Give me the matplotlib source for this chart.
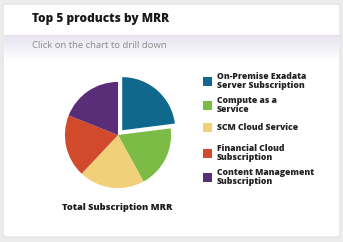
import numpy as np
import matplotlib
matplotlib.use('Agg')
import matplotlib.pyplot as plt
from matplotlib.patches import FancyBboxPatch, Rectangle

plt.rcParams['font.family'] = ['Open Sans', 'DejaVu Sans']

W, H = 343, 242

title = 'Top 5 products by MRR'
subtitle = 'Click on the chart to drill down'
pie_label = 'Total Subscription MRR'
products = ['On-Premise Exadata\nServer Subscription', 'Compute as a\nService', 'SCM Cloud Service',
            'Financial Cloud\nSubscription', 'Content Management\nSubscription']
mrr = [23, 19, 20, 19, 19]
colors = ['#10698c', '#7cbb45', '#f1d07a', '#d14a2c', '#5a2d78']
explode = [0.12, 0, 0, 0, 0]


def px(x, y):
    # pixel from top-left -> figure fraction
    return x / W, 1 - y / H


fig = plt.figure(figsize=(W / 100, H / 100), dpi=100)
fig.patch.set_facecolor('#ececec')

# background axes holding the card
bg = fig.add_axes([0, 0, 1, 1], zorder=-10)
bg.axis('off')
bg.add_patch(FancyBboxPatch((3, 4), 337, 233, boxstyle='round,pad=0,rounding_size=3',
                            facecolor='white', edgecolor='#e0e0e0', lw=0.8))

# subtitle band with faint lavender gradient
grad = np.linspace(0, 1, 50).reshape(-1, 1)
top = np.array([0.91, 0.89, 0.94])
bot = np.array([0.99, 0.99, 1.0])
img = top[None, None, :] * (1 - grad[:, :, None]) + bot[None, None, :] * grad[:, :, None]
bg.imshow(img, aspect='auto', extent=[4, 339, 59, 35], zorder=1)
bg.plot([4, 339], [35, 35], color='#e4e0e8', lw=0.6, zorder=2)
bg.set_xlim(0, W)
bg.set_ylim(H, 0)

fig.text(*px(32, 19), title, fontsize=8.6, fontweight='heavy', color='#1a1a1a', va='center', ha='left')
fig.text(*px(32, 46), subtitle, fontsize=6.8, color='#8a8a8a', va='center', ha='left')

# pie
ax = fig.add_axes([49 / W, 38 / H, 138 / W, 138 / H])
ax.pie(mrr, colors=colors, explode=explode, startangle=90, counterclock=False, radius=1,
       wedgeprops=dict(linewidth=0))
ax.set_xlim(-1.3, 1.3)
ax.set_ylim(-1.3, 1.3)
ax.set_aspect('equal')
ax.axis('off')

fig.text(*px(117, 208), pie_label, fontsize=6.7, fontweight='heavy', color='#1a1a1a', va='center', ha='center')

# legend
y0 = 81
for i, (name, c) in enumerate(zip(products, colors)):
    y = y0 + i * 24
    if i == 2:
        y = y - 2
    fig.patches.append(Rectangle(px(203, y + 4.5), 9 / W, 9 / H, transform=fig.transFigure,
                                 facecolor=c, edgecolor='none'))
    fig.text(*px(217, y), name, fontsize=6.2, fontweight='heavy', color='#222222', va='center', ha='left',
             linespacing=0.9)

fig.savefig('out.png', dpi=100, facecolor=fig.get_facecolor())
